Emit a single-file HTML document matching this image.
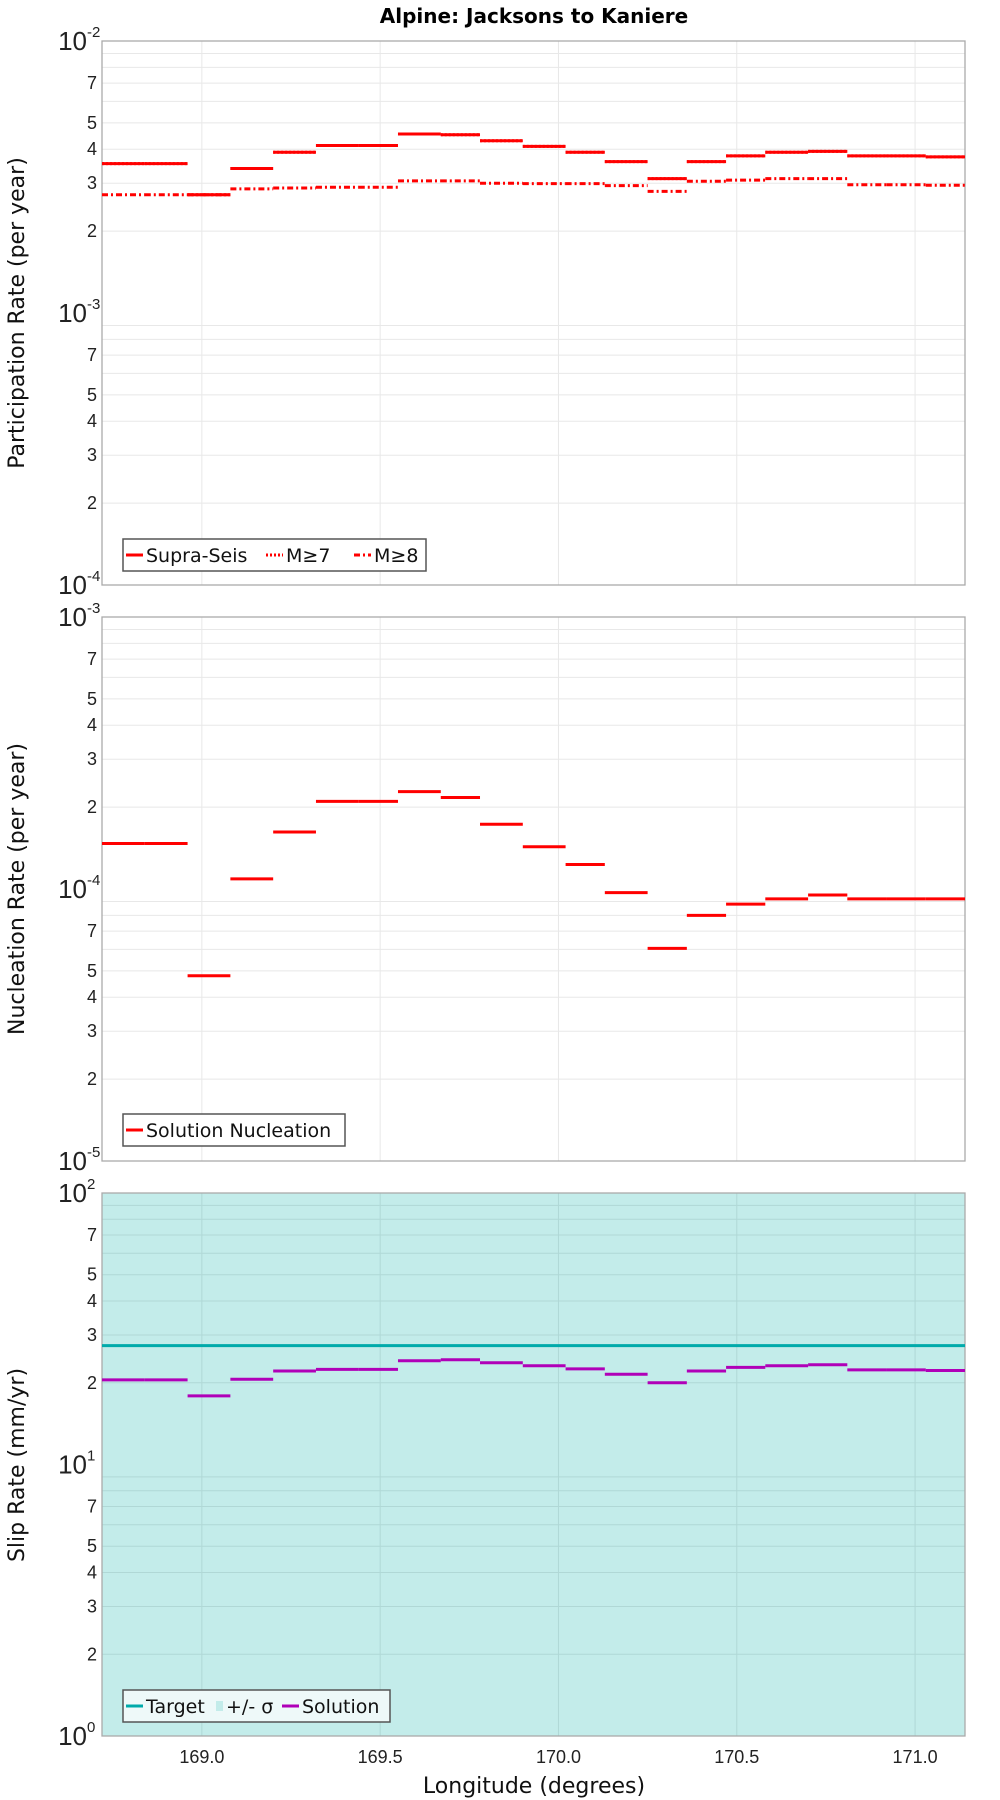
<!DOCTYPE html>
<html><head><meta charset="utf-8"><style>
html,body{margin:0;padding:0;background:#fff;}
svg{display:block;}
.tk{font-family:"Liberation Sans Narrow","Liberation Sans",sans-serif;font-size:18px;fill:#222;}
.dec{font-family:"Liberation Sans Narrow","Liberation Sans",sans-serif;font-size:26px;fill:#222;}
.sup{font-family:"Liberation Sans Narrow","Liberation Sans",sans-serif;font-size:15px;fill:#222;}
.yt{font-family:"DejaVu Sans",sans-serif;font-size:22px;fill:#111;}
.lg{font-family:"DejaVu Sans",sans-serif;font-size:19px;fill:#111;}
</style></head><body>
<svg id="chart" width="1000" height="1800" viewBox="0 0 1000 1800" xmlns="http://www.w3.org/2000/svg">
<text x="534" y="23" text-anchor="middle" font-family="DejaVu Sans,Liberation Sans,sans-serif" font-weight="bold" font-size="20">Alpine: Jacksons to Kaniere</text>
<g id="g1"></g>
<g id="g2"></g>
<g id="g3"></g>
<g id="xax"></g>
</svg>
<script>
const edges = [168.72,168.84,168.96,169.08,169.20,169.32,169.44,169.55,169.67,169.78,169.90,170.02,170.13,170.25,170.36,170.47,170.58,170.70,170.81,170.92,171.03,171.14];
const supraSeis = [3.54e-3,3.54e-3,2.72e-3,3.4e-3,3.9e-3,4.13e-3,4.13e-3,4.55e-3,4.52e-3,4.3e-3,4.1e-3,3.9e-3,3.6e-3,3.12e-3,3.6e-3,3.78e-3,3.9e-3,3.93e-3,3.78e-3,3.78e-3,3.75e-3];
const m7 = [3.54e-3,3.54e-3,2.72e-3,3.4e-3,3.9e-3,4.13e-3,4.13e-3,4.55e-3,4.52e-3,4.3e-3,4.1e-3,3.9e-3,3.6e-3,3.12e-3,3.6e-3,3.78e-3,3.9e-3,3.93e-3,3.78e-3,3.78e-3,3.75e-3];
const m8 = [2.72e-3,2.72e-3,2.72e-3,2.86e-3,2.88e-3,2.9e-3,2.9e-3,3.06e-3,3.06e-3,3.0e-3,2.99e-3,2.99e-3,2.94e-3,2.8e-3,3.05e-3,3.08e-3,3.12e-3,3.12e-3,2.96e-3,2.96e-3,2.95e-3];
const nucleation = [1.47e-4,1.47e-4,4.8e-5,1.09e-4,1.62e-4,2.1e-4,2.1e-4,2.28e-4,2.17e-4,1.73e-4,1.43e-4,1.23e-4,9.7e-5,6.05e-5,8.0e-5,8.8e-5,9.2e-5,9.5e-5,9.2e-5,9.2e-5,9.2e-5];
const targetSlip = [27.4];
const solutionSlip = [20.5,20.5,17.9,20.6,22.1,22.4,22.4,24.1,24.3,23.7,23.1,22.5,21.5,20.0,22.1,22.8,23.1,23.3,22.3,22.3,22.2];
const xTicks = [169.0,169.5,170.0,170.5,171.0];
const minorLabels = [2,3,4,5,7];

const NS="http://www.w3.org/2000/svg";
const L=102,R=965,X0=168.72,X1=171.14;
const xs=v=>L+(v-X0)/(X1-X0)*(R-L);
function mk(p,t,a){const e=document.createElementNS(NS,t);for(const k in a)e.setAttribute(k,a[k]);p.appendChild(e);return e;}

function panel(g,top,bot,dmin,dmax,bg,gridCol){
  const ys=v=>bot-(Math.log10(v)-dmin)/(dmax-dmin)*(bot-top);
  const r=mk(g,'rect',{x:L,y:top,width:R-L,height:bot-top,fill:bg,stroke:'none'});
  
  
  for(const t of xTicks){const l=mk(g,'line',{x1:xs(t),x2:xs(t),y1:top,y2:bot,stroke:gridCol,'stroke-width':1});
    
    }
  for(let d=dmin;d<dmax;d++){
    for(let m=2;m<=9;m++){const y=ys(m*Math.pow(10,d));
      const l=mk(g,'line',{x1:L,x2:R,y1:y,y2:y,stroke:gridCol,'stroke-width':1});
      
      
      if(minorLabels.includes(m)){const t=mk(g,'text',{x:L-5,y:y+6,'text-anchor':'end',class:'tk'});t.textContent=m;
        
        }
    }
  }
  for(let d=dmin;d<=dmax;d++){const y=ys(Math.pow(10,d));
    const t=mk(g,'text',{x:L-15,y:y+9,'text-anchor':'end',class:'dec'});t.textContent='10';
    
    
    const s=mk(g,'text',{x:L-15,y:y-4,'text-anchor':'start',class:'sup'});s.textContent=String(d);
    
    }
  const b=mk(g,'rect',{x:L,y:top,width:R-L,height:bot-top,fill:'none',stroke:'#aaa','stroke-width':1.3});
  
  
  return ys;
}
function steps(g,ys,vals,col,dash,name){
  for(let i=0;i<vals.length;i++){const y=ys(vals[i]);
    const a={x1:xs(edges[i]),x2:xs(edges[i+1]),y1:y,y2:y,stroke:col,'stroke-width':3};
    if(dash)a['stroke-dasharray']=dash;
    const l=mk(g,'line',a);
    
    }
}
function ytitle(g,x,y,txt){const t=mk(g,'text',{x:x,y:y,'text-anchor':'middle',class:'yt',transform:`rotate(-90 ${x} ${y})`});t.textContent=txt;
  
  }
function legend(g,x,y,w,items,bg){
  const r=mk(g,'rect',{x:x,y:y,width:w,height:32,fill:bg,stroke:'#555','stroke-width':1.5});
  
  
  let cx=x+3;
  for(const it of items){
    if(it.box){const s=mk(g,'rect',{x:cx+2,y:y+11,width:7,height:10,fill:it.col});cx+=12;}
    else{const a={x1:cx,x2:cx+17,y1:y+16,y2:y+16,stroke:it.col,'stroke-width':3};if(it.dash)a['stroke-dasharray']=it.dash;
    const l=mk(g,'line',a);cx+=20;}
    const t=mk(g,'text',{x:cx,y:y+23,class:'lg'});t.textContent=it.t;
    
    
    cx+=it.w;
  }
}
// Panel 1
const g1=document.getElementById('g1');
const y1=panel(g1,41,585,-4,-2,'#fff','#e8e8e8');
steps(g1,y1,m8,'#f00','6,3,2,3','m8-segment');
steps(g1,y1,supraSeis,'#f00',null,'supra-seis-segment');
steps(g1,y1,m7,'#f00','2,2','m7-segment');
ytitle(g1,24,313,'Participation Rate (per year)');
legend(g1,123,539,303,[{t:'Supra-Seis',col:'#f00',w:120},{t:'M≥7',col:'#f00',dash:'2,2',w:68},{t:'M≥8',col:'#f00',dash:'6,3,2,3',w:60}],'#fff');
// Panel 2
const g2=document.getElementById('g2');
const y2=panel(g2,617,1161,-5,-3,'#fff','#e8e8e8');
steps(g2,y2,nucleation,'#f00',null,'nucleation-segment');
ytitle(g2,24,889,'Nucleation Rate (per year)');
legend(g2,123,1114,222,[{t:'Solution Nucleation',col:'#f00',w:200}],'#fff');
// Panel 3
const g3=document.getElementById('g3');
const y3=panel(g3,1193,1736,0,2,'#c3ecea','#b0d8d6');
const ty=y3(targetSlip[0]);
const tl=mk(g3,'line',{x1:L,x2:R,y1:ty,y2:ty,stroke:'#00aaaa','stroke-width':3});


steps(g3,y3,solutionSlip,'#b000b8',null,'solution-segment');
ytitle(g3,24,1465,'Slip Rate (mm/yr)');
legend(g3,123,1690,267,[{t:'Target',col:'#00aaaa',w:68},{t:'+/- σ',col:'#c3ecea',box:true,w:56},{t:'Solution',col:'#b000b8',w:90}],'#eef9f9');
// X axis
const gx=document.getElementById('xax');
for(const t of xTicks){const e=mk(gx,'text',{x:xs(t),y:1763,'text-anchor':'middle',class:'tk','font-size':'20'});e.textContent=t.toFixed(1);
  
  }
const xl=mk(gx,'text',{x:534,y:1793,'text-anchor':'middle',class:'yt'});xl.textContent='Longitude (degrees)';


</script>
</body></html>
